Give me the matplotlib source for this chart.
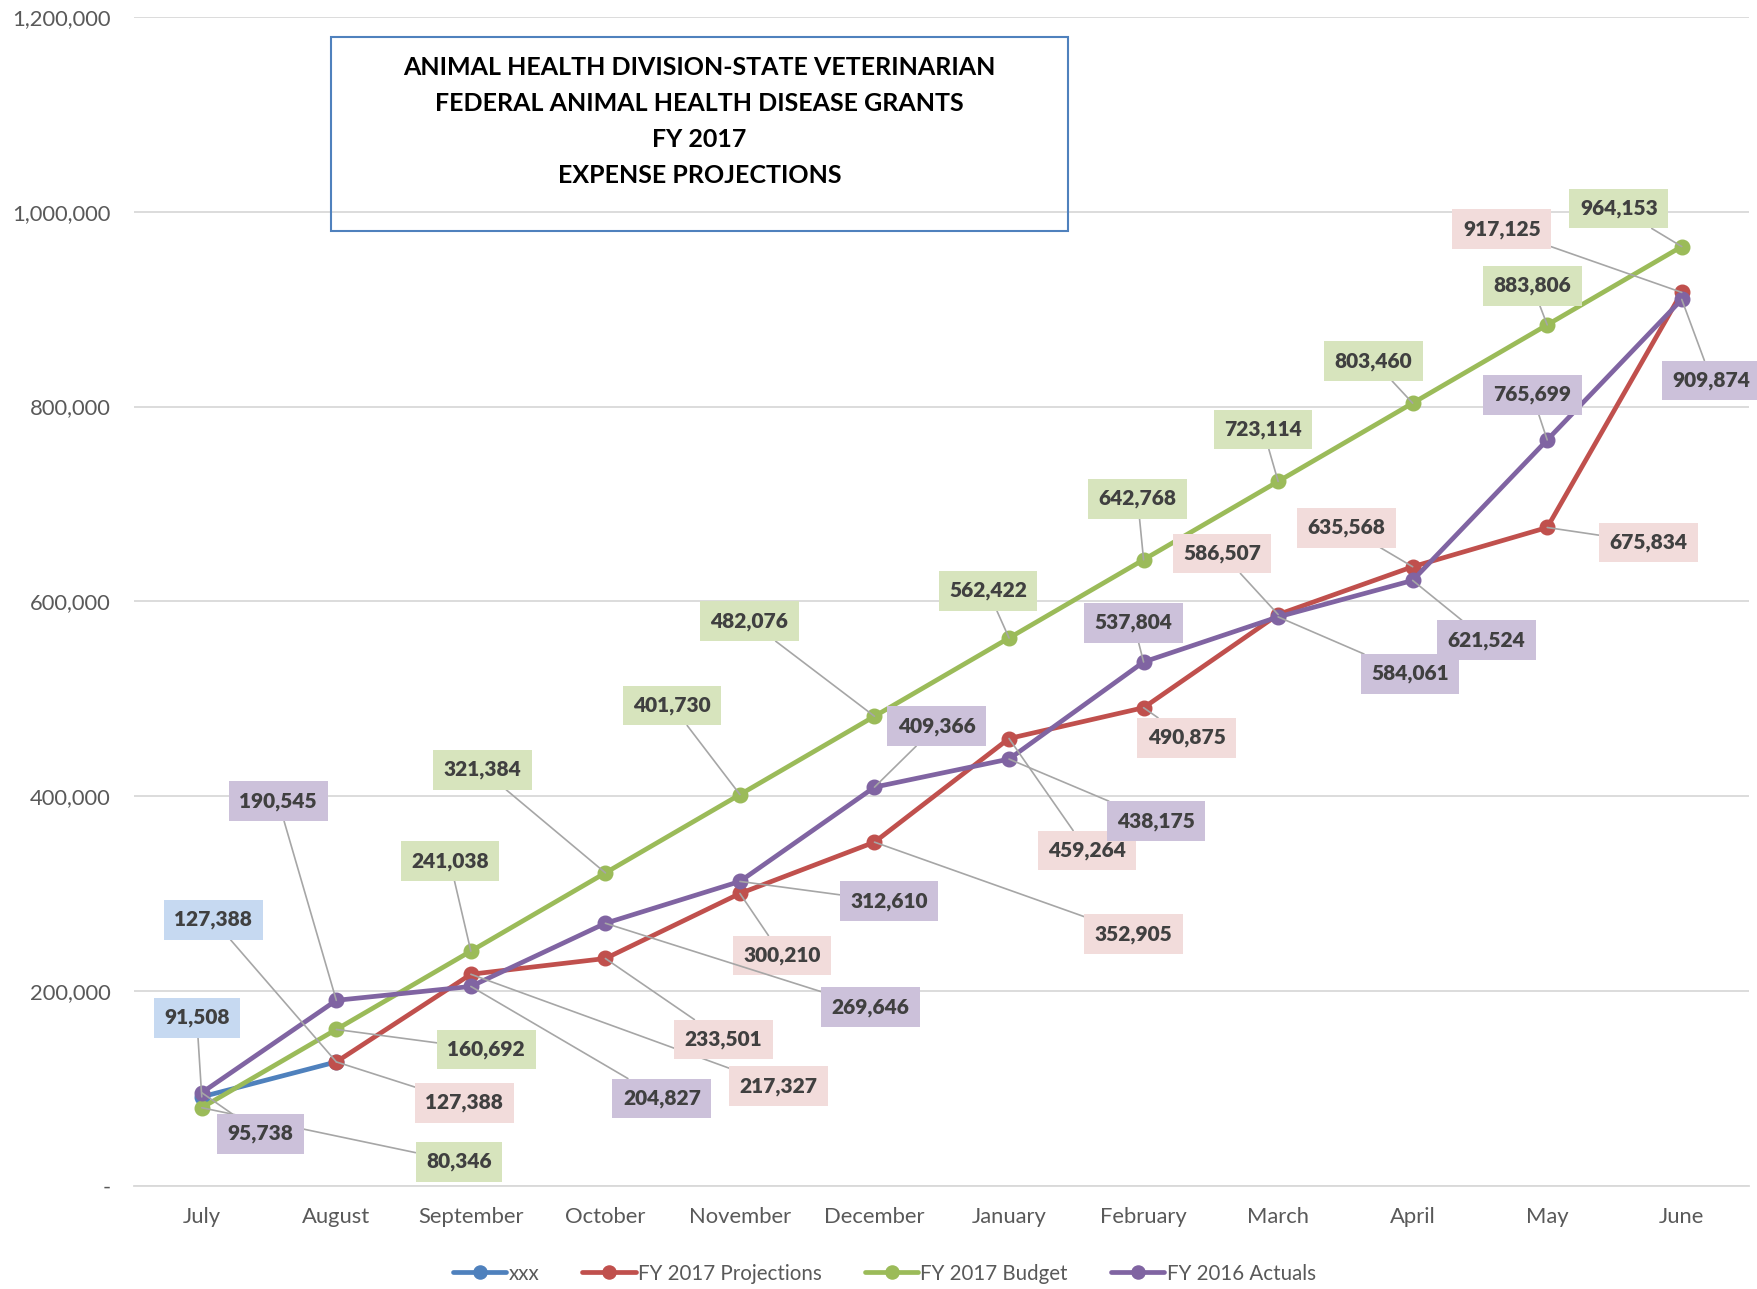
import numpy as np
import matplotlib
matplotlib.use("Agg")
import matplotlib.pyplot as plt
from matplotlib.ticker import FuncFormatter

plt.rcParams['font.family'] = ['Lato', 'DejaVu Sans']

months = ["July", "August", "September", "October", "November", "December",
          "January", "February", "March", "April", "May", "June"]

xxx_vals = [91508, 127388]
proj_vals = [np.nan, 127388, 217327, 233501, 300210, 352905, 459264,
             490875, 586507, 635568, 675834, 917125]
budget_vals = [80346, 160692, 241038, 321384, 401730, 482076, 562422,
               642768, 723114, 803460, 883806, 964153]
actual_vals = [95738, 190545, 204827, 269646, 312610, 409366, 438175,
               537804, 584061, 621524, 765699, 909874]

# label box offsets from each point, in pixels
xxx_off = [(-5, 79), (-123, 142)]
proj_off = [None, (128, -41), (308, -112), (118, -81), (42, -62), (259, -92),
            (78, -112), (43, -30), (-56, 61), (-66, 39), (101, -15), (-180, 63)]
budget_off = [(257, -54), (150, -20), (-21, 90), (-123, 103), (-68, 89),
              (-125, 95), (-21, 47), (-6, 61), (-15, 52), (-39, 42),
              (-15, 39), (-63, 38)]
actual_off = [(59, -41), (-58, 199), (191, -112), (265, -84), (149, -20),
              (62, 61), (147, -62), (-10, 39), (132, -57), (74, -60),
              (-15, 45), (30, -81)]

series = [
    ("xxx", xxx_vals, xxx_off, "#4F81BD", "#C6D9F1"),
    ("FY 2017 Projections", proj_vals, proj_off, "#C0504D", "#F2DCDB"),
    ("FY 2017 Budget", budget_vals, budget_off, "#9BBB59", "#D7E4BD"),
    ("FY 2016 Actuals", actual_vals, actual_off, "#8064A2", "#CCC1DA"),
]

fig = plt.figure(figsize=(17.58, 12.89), dpi=100)
ax = fig.add_axes([0.0765, 0.0799, 0.9184, 0.9071])

for name, vals, offs, col, fill in series:
    x = np.arange(len(vals))
    ax.plot(x, vals, color=col, lw=3.4, marker='o', ms=10.5, label=name,
            solid_capstyle='round', zorder=3)

for name, vals, offs, col, fill in series:
    for i, v in enumerate(vals):
        if offs[i] is None or np.isnan(v):
            continue
        ax.annotate(f"{v:,.0f}", xy=(i, v), xytext=offs[i],
                    textcoords='offset pixels', ha='center', va='center',
                    fontsize=15, fontweight='heavy', color='#404040',
                    bbox=dict(boxstyle='square,pad=0.5', fc=fill, ec='none'),
                    arrowprops=dict(arrowstyle='-', color='#A6A6A6', lw=1.2,
                                    shrinkA=0, shrinkB=0),
                    zorder=5)

ax.set_xlim(-0.5, 11.5)
ax.set_ylim(0, 1200000)
ax.set_yticks(np.arange(0, 1200001, 200000))
ax.yaxis.set_major_formatter(FuncFormatter(lambda v, p: "-" if v == 0 else f"{v:,.0f}"))
ax.set_xticks(range(12))
ax.set_xticklabels(months)
ax.tick_params(axis='both', length=0, labelsize=15.8, colors='#595959')
ax.tick_params(axis='y', pad=17)
ax.tick_params(axis='x', pad=15)
ax.grid(axis='y', color='#D9D9D9', lw=1.3)
ax.set_axisbelow(True)
for s in ['top', 'right', 'left']:
    ax.spines[s].set_visible(False)
ax.spines['bottom'].set_color('#D9D9D9')
ax.spines['bottom'].set_linewidth(1.3)

# title box
fig.text(0.398, 0.9056,
         "ANIMAL HEALTH DIVISION-STATE VETERINARIAN\n"
         "FEDERAL ANIMAL HEALTH DISEASE GRANTS\nFY 2017\nEXPENSE PROJECTIONS",
         ha='center', va='center', fontsize=18, fontweight='bold',
         color='black', linespacing=1.68)
fig.patches.append(plt.Rectangle((0.188, 0.8208), 0.4197, 0.1505,
                                 transform=fig.transFigure, fill=False,
                                 ec='#4F81BD', lw=1.5))

fig.legend(loc='center', bbox_to_anchor=(0.503, 0.012), ncol=4, frameon=False,
           fontsize=14.8, labelcolor='#595959', handlelength=2.6,
           handletextpad=0.1, columnspacing=2.1, markerscale=0.9)

fig.savefig("out.png", dpi=100)
